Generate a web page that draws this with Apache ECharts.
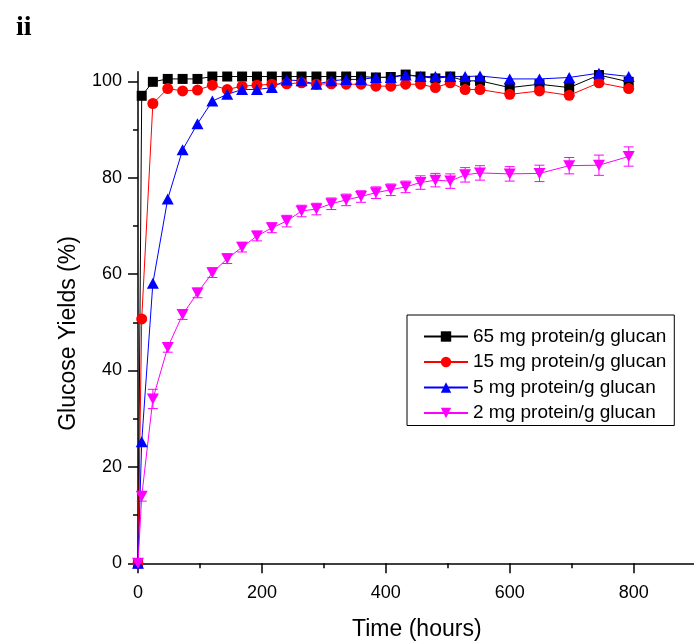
<!DOCTYPE html>
<html>
<head>
<meta charset="utf-8">
<script src="https://cdn.jsdelivr.net/npm/echarts@6/dist/echarts.min.js"></script>
<style>
  html, body { margin: 0; padding: 0; background: #ffffff; }
  #chart { width: 694px; height: 641px; }
</style>
</head>
<body>
<div id="chart"></div>
<script>
// Sampling times (hours)
const hours = [0, 6, 24, 48, 72, 96, 120, 144, 168, 192, 216, 240, 264, 288, 312, 336,
               360, 384, 408, 432, 456, 480, 504, 528, 552, 600, 648, 696, 744, 792];

// Glucose yields (%) for each enzyme loading
const yield65 = [0, 97.0, 99.9, 100.5, 100.5, 100.5, 101.0, 101.0, 101.0, 101.0, 101.0, 101.0, 101.0, 101.0, 101.0, 101.0,
                 101.0, 100.8, 100.9, 101.4, 101.0, 100.6, 101.0, 100.1, 100.1, 98.7, 99.4, 98.7, 101.3, 99.9];
const yield15 = [0, 50.7, 95.4, 98.5, 98.0, 98.2, 99.2, 98.3, 99.0, 99.2, 99.4, 99.5, 99.7, 99.4, 99.5, 99.4,
                 99.4, 99.0, 99.0, 99.4, 99.4, 98.7, 99.7, 98.3, 98.3, 97.3, 98.0, 97.1, 99.7, 98.5];
const yield5  = [0, 25.2, 58.1, 75.6, 85.8, 91.2, 95.9, 97.3, 98.3, 98.3, 98.7, 100.3, 100.1, 99.4, 100.1, 100.4,
                 100.4, 100.8, 100.8, 101.3, 101.0, 101.0, 101.0, 101.0, 101.1, 100.5, 100.5, 100.8, 101.7, 101.0];
const yield2  = [0, 13.9, 34.1, 44.8, 51.6, 56.1, 60.3, 63.2, 65.6, 67.9, 69.6, 71.0, 73.1, 73.5, 74.6, 75.4,
                 76.1, 76.9, 77.5, 78.1, 79.0, 79.5, 79.3, 80.6, 81.0, 80.8, 80.9, 82.5, 82.6, 84.4];
// Standard deviation of the 2 mg loading
const err2    = [0, 1.0, 2.0, 1.0, 1.0, 1.0, 1.0, 1.0, 1.0, 1.0, 1.0, 1.2, 1.2, 1.2, 1.2, 1.2,
                 1.2, 1.2, 1.2, 1.2, 1.4, 1.4, 1.5, 1.5, 1.5, 1.5, 1.7, 1.7, 2.1, 2.0];

const seriesNames = ['65 mg protein/g glucan', '15 mg protein/g glucan', '5 mg protein/g glucan', '2 mg protein/g glucan'];
const xMajorTicks = [0, 200, 400, 600, 800];
const xMinorTicks = [100, 300, 500, 700];
const yMajorTicks = [0, 20, 40, 60, 80, 100];
const yMinorTicks = [10, 30, 50, 70, 90];

const FONT = "'Liberation Sans', Arial, sans-serif";
const pairs = (ys) => hours.map((h, i) => [h, ys[i]]);

function lineSeries(name, ys, color, symbol, size, rotate) {
  return {
    type: 'line', name: name, data: pairs(ys),
    xAxisIndex: 0, yAxisIndex: 0,
    symbol: symbol, symbolSize: size, symbolRotate: rotate || 0,
    showAllSymbol: true, clip: false,
    lineStyle: { color: color, width: 1 },
    itemStyle: { color: color, borderWidth: 0 },
    emphasis: { disabled: true }
  };
}

const chart = echarts.init(document.getElementById('chart'), null, { renderer: 'canvas' });
chart.setOption({
  animation: false,
  backgroundColor: '#ffffff',
  title: {
    text: 'ii', left: 11, top: 9,
    textStyle: { fontFamily: "'Liberation Serif', 'Times New Roman', serif", fontWeight: 'bold', fontSize: 28, color: '#000' }
  },
  grid: { left: 138, top: 71.7, width: 557.6, height: 491.6, outerBoundsMode: 'none', containLabel: false },
  legend: {
    data: seriesNames,
    orient: 'vertical',
    left: 407, top: 315,
    itemWidth: 44, itemHeight: 13, itemGap: 6.5,
    padding: [12, 8, 3, 16],
    borderColor: '#000', borderWidth: 1, borderRadius: 0,
    textStyle: { fontFamily: FONT, fontSize: 19, color: '#000' },
    selectedMode: false
  },
  xAxis: [{
    type: 'value', min: 0, max: 900, interval: 200,
    name: 'Time (hours)', nameLocation: 'middle', nameGap: 55,
    nameTextStyle: { fontFamily: FONT, fontSize: 23, color: '#000' },
    axisLine: { show: true, onZero: false, lineStyle: { color: '#000', width: 1.5 } },
    axisTick: { show: true, length: 10, customValues: xMajorTicks, lineStyle: { color: '#000', width: 1.5 } },
    axisLabel: { customValues: xMajorTicks, margin: 21, fontFamily: FONT, fontSize: 18, color: '#000' },
    splitLine: { show: false }
  }, {
    type: 'value', min: 0, max: 900, position: 'bottom', gridIndex: 0,
    axisLine: { show: false },
    axisTick: { show: true, length: 5, customValues: xMinorTicks, lineStyle: { color: '#000', width: 1.5 } },
    axisLabel: { show: false },
    splitLine: { show: false }
  }],
  yAxis: [{
    type: 'value', min: 0, max: 102, interval: 20,
    name: 'Glucose Yields (%)', nameLocation: 'middle', nameGap: 58, nameRotate: 90,
    nameTextStyle: { fontFamily: FONT, fontSize: 23, color: '#000', padding: [0, 32, 0, 0] },
    axisLine: { show: true, onZero: false, lineStyle: { color: '#000', width: 1.5 } },
    axisTick: { show: true, length: 10, customValues: yMajorTicks, lineStyle: { color: '#000', width: 1.5 } },
    axisLabel: { customValues: yMajorTicks, margin: 16, fontFamily: FONT, fontSize: 18, color: '#000' },
    splitLine: { show: false }
  }, {
    type: 'value', min: 0, max: 102, position: 'left', gridIndex: 0,
    axisLine: { show: false },
    axisTick: { show: true, length: 5, customValues: yMinorTicks, lineStyle: { color: '#000', width: 1.5 } },
    axisLabel: { show: false },
    splitLine: { show: false }
  }],
  series: [
    lineSeries(seriesNames[0], yield65, '#000000', 'rect', 10),
    lineSeries(seriesNames[1], yield15, '#ff0000', 'circle', 11),
    lineSeries(seriesNames[2], yield5, '#0000ff', 'triangle', [12, 11]),
    lineSeries(seriesNames[3], yield2, '#ff00ff', 'triangle', [12, 11], 180),
    {
      type: 'custom', name: 'err2', xAxisIndex: 0, yAxisIndex: 0,
      data: hours.map((h, i) => [h, yield2[i] - err2[i], yield2[i] + err2[i]]),
      encode: { x: 0, y: [1, 2] },
      clip: false, silent: true, z: 3,
      renderItem: function (params, api) {
        const x = api.value(0);
        const lo = api.coord([x, api.value(1)]);
        const hi = api.coord([x, api.value(2)]);
        const w = 5;
        const st = { stroke: '#ff00ff', lineWidth: 1 };
        return {
          type: 'group',
          children: [
            { type: 'line', shape: { x1: lo[0], y1: lo[1], x2: hi[0], y2: hi[1] }, style: st },
            { type: 'line', shape: { x1: lo[0] - w, y1: lo[1], x2: lo[0] + w, y2: lo[1] }, style: st },
            { type: 'line', shape: { x1: hi[0] - w, y1: hi[1], x2: hi[0] + w, y2: hi[1] }, style: st }
          ]
        };
      }
    }
  ]
});
</script>
</body>
</html>
